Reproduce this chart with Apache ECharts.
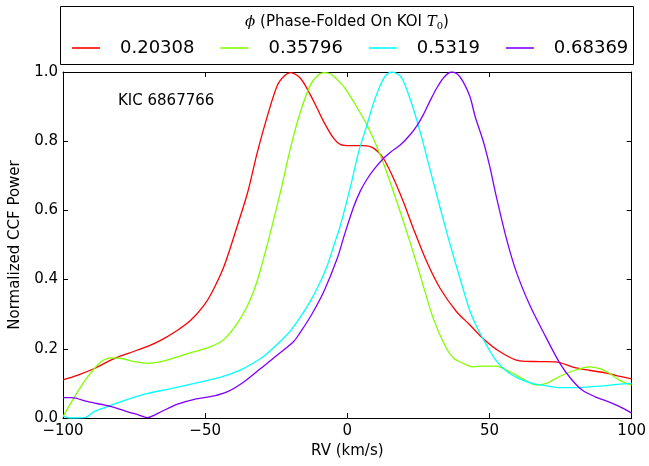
<!DOCTYPE html>
<html>
<head>
<meta charset="utf-8">
<script src="https://cdn.jsdelivr.net/npm/echarts@6/dist/echarts.min.js"></script>
<style>html,body{margin:0;padding:0;background:#fff}#c{width:649px;height:466px}</style>
</head>
<body>
<div id="c"></div>
<script>
const seriesNames = ['0.20308', '0.35796', '0.5319', '0.68369'];
const seriesColors = ['#ff0000', '#80ff00', '#00ffff', '#8000ff'];
const xTicks = [-100, -50, 0, 50, 100];
const yTicks = [0.0, 0.2, 0.4, 0.6, 0.8, 1.0];

const rvRed = [-100,-95,-89,-83,-77,-70,-65.5,-60,-55,-50.3,-47.5,-43.3,-38.6,-35,-31.6,-28,-24.6,-22,-20,-16.5,-13,-10.5,-8.3,-4.8,-2.5,1,5.7,9.2,12.7,16.2,19.7,23.2,27.9,32.6,38.4,43.1,47.7,53.6,60.6,67.6,73.4,79,85,91,95,100];
const pRed  = [0.11,0.123,0.143,0.168,0.187,0.208,0.225,0.252,0.283,0.327,0.365,0.44,0.558,0.654,0.77,0.876,0.962,0.99,0.998,0.982,0.934,0.893,0.856,0.808,0.791,0.787,0.787,0.78,0.75,0.693,0.625,0.548,0.452,0.375,0.307,0.269,0.23,0.192,0.165,0.163,0.162,0.148,0.138,0.13,0.122,0.113];

const rvGreen = [-100,-95.9,-91.2,-86.5,-83,-79.5,-74.9,-70.2,-65.5,-59.7,-53.8,-48,-43.3,-38.6,-35.1,-32.8,-30.5,-27,-23.5,-20,-16.5,-13,-10.5,-8.3,-6,-3.6,-1,2.2,6.9,11.6,16.2,20.9,25.6,30.2,34.9,37.5,40.7,44,48,52.5,55,58,62,66.5,70,74.6,80,85,89,92,96,100];
const pGreen  = [0.004,0.062,0.12,0.163,0.174,0.172,0.163,0.158,0.163,0.177,0.192,0.206,0.228,0.275,0.325,0.37,0.43,0.538,0.654,0.78,0.885,0.962,0.99,0.998,0.995,0.978,0.955,0.914,0.847,0.76,0.654,0.538,0.413,0.288,0.2,0.172,0.158,0.148,0.15,0.15,0.142,0.13,0.112,0.095,0.1,0.12,0.138,0.148,0.142,0.13,0.108,0.095];

const rvCyan = [-100,-98,-95,-92.3,-88.9,-83,-77.2,-70.2,-63.2,-53.8,-44.5,-37.5,-30.5,-28,-24,-20,-16.5,-13,-10,-7.1,-4.5,-2.5,1,4,6.9,9,11.6,13.5,15.6,17.5,19.2,22,25.6,30.2,34.9,39.6,43.1,45.4,49,52.4,56,60,65,70,75,80,85,90,95,100];
const pCyan  = [0.006,0.0,0.0,0.001,0.019,0.037,0.054,0.071,0.083,0.1,0.118,0.139,0.172,0.188,0.218,0.252,0.292,0.338,0.385,0.44,0.505,0.555,0.665,0.77,0.847,0.905,0.962,0.99,1.0,0.995,0.982,0.924,0.827,0.683,0.538,0.404,0.31,0.265,0.21,0.165,0.135,0.115,0.1,0.093,0.088,0.088,0.09,0.093,0.097,0.1];

const rvPurple = [-100,-97,-91.2,-83,-77.2,-73.5,-70.4,-67.5,-65.5,-59.7,-53.8,-46.8,-42.1,-36.3,-30.5,-24.6,-18.8,-16.5,-12.5,-8.3,-3.6,-1,2.2,4.5,6.9,9.5,12.7,15.5,18.6,22,24.5,26.7,29,31.4,34,36.7,38.7,40.7,43.1,45,47.8,50,52.4,55.9,59.4,64.1,68.8,74.6,78.5,82.7,87,93,97,100];
const pPurple  = [0.059,0.059,0.047,0.033,0.018,0.009,0.001,0.01,0.018,0.04,0.054,0.064,0.076,0.105,0.143,0.182,0.222,0.248,0.3,0.365,0.46,0.53,0.61,0.655,0.69,0.72,0.75,0.77,0.789,0.818,0.845,0.876,0.915,0.953,0.985,1.0,0.994,0.972,0.929,0.87,0.8,0.73,0.64,0.52,0.423,0.327,0.25,0.16,0.115,0.08,0.062,0.043,0.028,0.014];

const xs = [rvRed, rvGreen, rvCyan, rvPurple];
const ys = [pRed, pGreen, pCyan, pPurple];

const FONT = 'DejaVu Sans';
const chart = echarts.init(document.getElementById('c'), null, {renderer: 'canvas'});

const fmtX = v => (v < 0 ? '\u2212' + Math.abs(v) : String(v));
const xMin = xTicks[0], xMax = xTicks[xTicks.length - 1];
const xInt = xTicks[1] - xTicks[0];
const yMin = yTicks[0], yMax = yTicks[yTicks.length - 1];
const yInt = 0.2;

const baseX = {
  type: 'value', min: xMin, max: xMax, interval: xInt,
  axisLine: {show: true, onZero: false, lineStyle: {color: '#000', width: 1}},
  axisTick: {show: true, inside: true, length: 5, lineStyle: {color: '#000'}},
  splitLine: {show: false}
};
const baseY = {
  type: 'value', min: yMin, max: yMax, interval: yInt,
  axisLine: {show: true, onZero: false, lineStyle: {color: '#000', width: 1}},
  axisTick: {show: true, inside: true, length: 5, lineStyle: {color: '#000'}},
  splitLine: {show: false}
};

const option = {
  animation: false,
  backgroundColor: '#fff',
  textStyle: {fontFamily: FONT},
  grid: {left: 62, right: 16, top: 72, bottom: 48, containLabel: false},
  title: {
    text: 'KIC 6867766', left: 118, top: 94, padding: 0,
    textStyle: {fontFamily: FONT, fontSize: 15, fontWeight: 'normal', color: '#000'}
  },
  legend: {
    data: seriesNames, left: 72, top: 39, itemGap: 26, itemWidth: 28, itemHeight: 1.6,
    icon: 'rect', padding: 0,
    textStyle: {fontFamily: FONT, fontSize: 18, color: '#000', padding: [0, 0, 0, 15]}
  },
  xAxis: [
    Object.assign({}, baseX, {
      position: 'bottom', name: 'RV (km/s)', nameLocation: 'middle', nameGap: 24,
      nameTextStyle: {fontFamily: FONT, fontSize: 15, color: '#000'},
      axisLabel: {show: true, color: '#000', fontSize: 15, fontFamily: FONT, margin: 6, formatter: fmtX}
    }),
    Object.assign({}, baseX, {position: 'top', axisLabel: {show: false}})
  ],
  yAxis: [
    Object.assign({}, baseY, {
      position: 'left', name: 'Normalized CCF Power', nameLocation: 'middle', nameGap: 40,
      nameTextStyle: {fontFamily: FONT, fontSize: 15, color: '#000'},
      axisLabel: {show: true, color: '#000', fontSize: 15, fontFamily: FONT, margin: 5, formatter: v => v.toFixed(1)}
    }),
    Object.assign({}, baseY, {position: 'right', axisLabel: {show: false}})
  ],
  graphic: [
    {type: 'rect', shape: {x: 60.5, y: 6.5, width: 573, height: 58}, style: {fill: '#fff', stroke: '#000', lineWidth: 1}, z: -1},
    {type: 'text', x: 347, y: 22,
      style: {
        text: '{m|\u03d5} (Phase-Folded On KOI {m|T}{s|0})',
        font: '15px "DejaVu Sans"', fill: '#000', align: 'center', verticalAlign: 'middle',
        rich: {
          m: {fontFamily: 'DejaVu Serif', fontStyle: 'italic', fontSize: 15, fill: '#000'},
          s: {fontFamily: 'DejaVu Serif', fontSize: 10, padding: [8, 0, 0, 0], fill: '#000'}
        }
      }}
  ],
  series: seriesNames.map((n, i) => ({
    name: n, type: 'line', xAxisIndex: 0, yAxisIndex: 0,
    data: xs[i].map((x, j) => [x, ys[i][j]]),
    showSymbol: false, smooth: 0.3, clip: true,
    lineStyle: {color: seriesColors[i], width: 1.3},
    itemStyle: {color: seriesColors[i]}
  }))
};
chart.setOption(option);
</script>
</body>
</html>
